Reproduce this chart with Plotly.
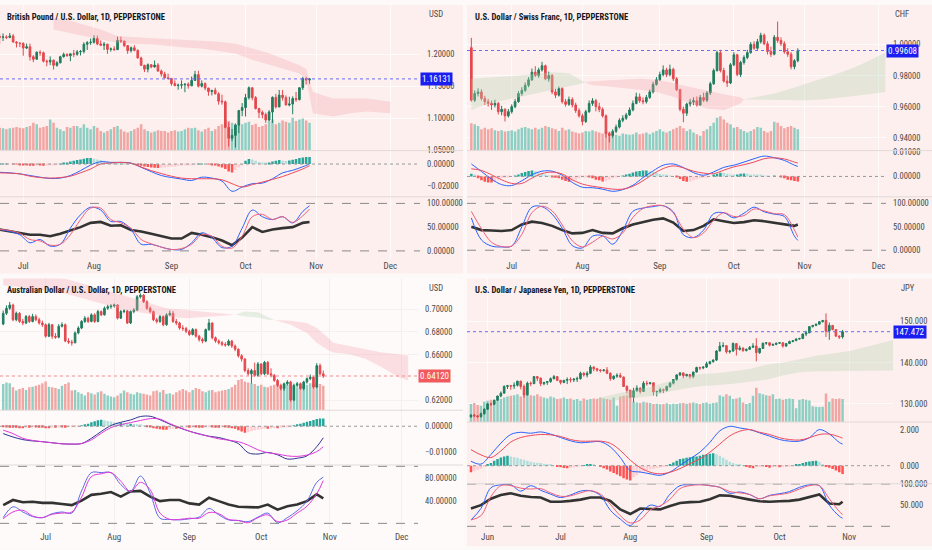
import pandas as pd
import plotly.graph_objects as go

W, H = 932, 550
FONT = ("Roboto Condensed, Noto Sans Condensed, Liberation Sans Narrow, Open Sans Condensed, "
        "DejaVu Sans Condensed, Arial Narrow, Liberation Sans, sans-serif")

# ---------------- GBPUSD, daily bars from 2022-06-22 ----------------
gbp_open = [1.2275, 1.2265, 1.2270, 1.2262, 1.2285, 1.2190, 1.2175, 1.2168, 1.2095, 1.2115,
            1.1960, 1.1920, 1.2030, 1.2022, 1.1890, 1.1880, 1.1905, 1.1825, 1.1865, 1.1960,
            1.1995, 1.1975, 1.2005, 1.1998, 1.2035, 1.2042, 1.2155, 1.2180, 1.2186, 1.2245,
            1.2160, 1.2140, 1.2155, 1.2075, 1.2082, 1.2070, 1.2215, 1.2205, 1.2135, 1.2055,
            1.2100, 1.2060, 1.1940, 1.1825, 1.1765, 1.1835, 1.1800, 1.1830, 1.1735, 1.1690,
            1.1630, 1.1620, 1.1540, 1.1510, 1.1515, 1.1522, 1.1530, 1.1505, 1.1590, 1.1680,
            1.1500, 1.1540, 1.1470, 1.1415, 1.1435, 1.1380, 1.1265, 1.1255, 1.0855, 1.0685,
            1.0730, 1.0890, 1.1120, 1.1165, 1.1320, 1.1475, 1.1320, 1.1150, 1.1090, 1.1055,
            1.0970, 1.1095, 1.1325, 1.1175, 1.1360, 1.1320, 1.1205, 1.1220, 1.1305, 1.1290,
            1.1475, 1.1620, 1.1595]
gbp_high = [1.2315, 1.2325, 1.2295, 1.2330, 1.2315, 1.2200, 1.2180, 1.2185, 1.2165, 1.2165,
            1.1985, 1.2045, 1.2060, 1.2040, 1.1915, 1.1965, 1.1915, 1.1890, 1.1975, 1.2025,
            1.2015, 1.2010, 1.2065, 1.2065, 1.2065, 1.2185, 1.2205, 1.2245, 1.2295, 1.2290,
            1.2215, 1.2190, 1.2165, 1.2105, 1.2125, 1.2275, 1.2275, 1.2210, 1.2140, 1.2120,
            1.2140, 1.2075, 1.1960, 1.1835, 1.1855, 1.1845, 1.1900, 1.1860, 1.1760, 1.1725,
            1.1695, 1.1625, 1.1590, 1.1540, 1.1590, 1.1545, 1.1560, 1.1650, 1.1740, 1.1740,
            1.1590, 1.1560, 1.1475, 1.1440, 1.1475, 1.1405, 1.1365, 1.1275, 1.0935, 1.0830,
            1.0915, 1.1120, 1.1235, 1.1380, 1.1495, 1.1480, 1.1345, 1.1160, 1.1120, 1.1085,
            1.1125, 1.1340, 1.1380, 1.1440, 1.1440, 1.1355, 1.1335, 1.1340, 1.1410, 1.1480,
            1.1645, 1.1645, 1.1625]
gbp_low = [1.2160, 1.2205, 1.2235, 1.2250, 1.2180, 1.2105, 1.2110, 1.1975, 1.2080, 1.1900,
           1.1875, 1.1915, 1.1975, 1.1870, 1.1810, 1.1830, 1.1760, 1.1805, 1.1855, 1.1945,
           1.1960, 1.1890, 1.1955, 1.1975, 1.1980, 1.2010, 1.2065, 1.2145, 1.2165, 1.2140,
           1.2125, 1.2065, 1.2005, 1.2040, 1.2055, 1.2065, 1.2175, 1.2110, 1.2005, 1.2025,
           1.2045, 1.1935, 1.1815, 1.1720, 1.1715, 1.1780, 1.1790, 1.1725, 1.1650, 1.1620,
           1.1605, 1.1505, 1.1495, 1.1445, 1.1460, 1.1405, 1.1460, 1.1500, 1.1580, 1.1480,
           1.1480, 1.1435, 1.1350, 1.1355, 1.1370, 1.1210, 1.1210, 1.0840, 1.0555, 1.0640,
           1.0540, 1.0765, 1.1030, 1.1025, 1.1290, 1.1280, 1.1135, 1.1000, 1.0995, 1.0925,
           1.0955, 1.0925, 1.1150, 1.1170, 1.1275, 1.1200, 1.1185, 1.1060, 1.1255, 1.1275,
           1.1440, 1.1525, 1.1535]
gbp_close = [1.2265, 1.2270, 1.2262, 1.2285, 1.2190, 1.2175, 1.2168, 1.2095, 1.2115, 1.1960,
             1.1920, 1.2030, 1.2022, 1.1890, 1.1880, 1.1905, 1.1825, 1.1865, 1.1960, 1.1995,
             1.1975, 1.2005, 1.1998, 1.2035, 1.2042, 1.2155, 1.2180, 1.2186, 1.2245, 1.2160,
             1.2140, 1.2155, 1.2075, 1.2082, 1.2070, 1.2215, 1.2205, 1.2135, 1.2055, 1.2100,
             1.2060, 1.1940, 1.1825, 1.1765, 1.1835, 1.1800, 1.1830, 1.1735, 1.1690, 1.1630,
             1.1620, 1.1540, 1.1510, 1.1515, 1.1522, 1.1530, 1.1505, 1.1590, 1.1680, 1.1500,
             1.1540, 1.1470, 1.1415, 1.1435, 1.1380, 1.1265, 1.1255, 1.0855, 1.0685, 1.0730,
             1.0890, 1.1120, 1.1165, 1.1320, 1.1475, 1.1320, 1.1150, 1.1090, 1.1055, 1.0970,
             1.1095, 1.1325, 1.1175, 1.1360, 1.1320, 1.1205, 1.1220, 1.1305, 1.1290, 1.1475,
             1.1620, 1.1595, 1.16131]
gbp_volume = [70, 68, 65, 68, 70, 72, 70, 68, 72, 75, 85, 80, 70, 72, 75, 95, 85, 70, 65, 60,
              72, 70, 75, 75, 70, 80, 70, 65, 75, 70, 60, 55, 60, 65, 72, 75, 65, 58, 55, 60,
              65, 70, 80, 65, 60, 55, 58, 62, 60, 60, 55, 60, 62, 58, 60, 65, 70, 68, 70, 62,
              58, 65, 70, 60, 65, 75, 80, 95, 90, 85, 80, 78, 80, 85, 88, 78, 82, 72, 75, 80,
              90, 95, 80, 85, 92, 88, 85, 100, 90, 95, 98, 92, 85]
gbp_hist = [0.0003, 0.0003, 0.0003, 0.0, -0.0003, -0.0003,
            -0.0006, -0.0009, -0.0012, -0.0015, -0.0015, -0.0012, -0.0012, -0.0015, -0.0012, -0.0009, -0.0006, -0.0003,
            0.0003, 0.0009, 0.0015, 0.0024, 0.003, 0.0036, 0.0042, 0.0048, 0.0054,
            0.0054, 0.0048, 0.0042, 0.0036, 0.003, 0.0024, 0.0018, 0.0015, 0.0012,
            0.0009, 0.0006, 0.0003, 0.0, -0.0003,
            -0.0009, -0.0015, -0.0021, -0.0027, -0.003, -0.0033, -0.0036, -0.0033, -0.003, -0.0027, -0.0024,
            -0.0021, -0.0018, -0.0015, -0.0012, -0.0009, -0.0006, -0.0003,
            0.0003, 0.0003, 0.0, -0.0003, -0.0006,
            -0.0012, -0.0021, -0.003, -0.0045, -0.0066, -0.0075,
            -0.0054, -0.003, -0.0006,
            0.003, 0.0045, 0.0042, 0.003, 0.0018, 0.0012, 0.0009,
            0.0012, 0.0024, 0.003, 0.0036, 0.003, 0.0027, 0.0033, 0.0039, 0.0045,
            0.0054, 0.006, 0.0063, 0.0063]
# indicator lines read every third bar, plus the last bar
gbp_macd = [-0.0074, -0.0079, -0.0088, -0.0103, -0.0118, -0.0129, -0.0126, -0.0103, -0.0059, -0.0009,
            0.0021, 0.0015, 0.0015, 0.0009, -0.0029, -0.0068, -0.0103, -0.0121, -0.0135, -0.0147,
            -0.0118, -0.0126, -0.0153, -0.0244, -0.0206, -0.0176, -0.0171, -0.0132, -0.0079, -0.0056,
            -0.0024, 0.0000]
gbp_signal = [-0.0079, -0.0082, -0.0088, -0.0109, -0.0121, -0.0126, -0.0121, -0.0109, -0.0079, -0.0044,
              0.0000, 0.0009, 0.0015, 0.0006, -0.0026, -0.0059, -0.0085, -0.0109, -0.0126, -0.0132,
              -0.0132, -0.0132, -0.0141, -0.0176, -0.0206, -0.0185, -0.0162, -0.0138, -0.0112, -0.0079,
              -0.0044, -0.0015]
gbp_k = [45, 41, 34, 17, 24, 10, 14, 48, 76, 92, 86, 62, 62, 45, 14, 14, 8, 3, 3, 17,
         38, 28, 7, 10, 48, 86, 72, 66, 72, 59, 83, 95]
gbp_d = [45, 43, 37, 24, 21, 12, 14, 34, 66, 90, 90, 66, 59, 48, 24, 15, 8, 3, 5, 14,
         34, 31, 10, 6, 31, 72, 77, 66, 72, 60, 74, 88]
gbp_rsi = [45, 41, 38, 34, 34, 31, 36, 43, 50, 59, 61, 53, 54, 44, 41, 36, 31, 26, 26, 38,
           34, 29, 22, 12, 28, 50, 40, 45, 48, 50, 59, 61]
gbp_kumo_x = [16, 20, 25, 30, 35, 40, 45, 50, 55, 60, 65, 70, 75, 80, 85, 89, 91, 93, 99, 104, 109, 116]
gbp_span_a = [1.2385, 1.2333, 1.2282, 1.2231, 1.2179, 1.2164, 1.2154, 1.2128, 1.2103, 1.2087, 1.2051,
              1.2010, 1.1913, 1.1836, 1.1759, 1.1697, 1.1615, 1.1077, 1.1026, 1.1077, 1.1103, 1.1077]
gbp_span_b = [1.2564, 1.2538, 1.2462, 1.2385, 1.2282, 1.2267, 1.2256, 1.2246, 1.2231, 1.2215, 1.2195,
              1.2164, 1.2092, 1.2015, 1.1908, 1.1826, 1.1769, 1.1410, 1.1308, 1.1308, 1.1308, 1.1256]

# ---------------- USDCHF, daily bars from 2022-06-15 ----------------
chf_open = [0.9979, 0.9642, 0.9684, 0.9695, 0.9653, 0.9632, 0.9621, 0.9611, 0.9621, 0.9568,
            0.9583, 0.9541, 0.9568, 0.9600, 0.9632, 0.9684, 0.9705, 0.9737, 0.9773, 0.9821,
            0.9800, 0.9836, 0.9863, 0.9779, 0.9800, 0.9695, 0.9674, 0.9716, 0.9632, 0.9615,
            0.9646, 0.9611, 0.9575, 0.9541, 0.9505, 0.9568, 0.9621, 0.9638, 0.9600, 0.9583,
            0.9541, 0.9427, 0.9415, 0.9442, 0.9469, 0.9512, 0.9526, 0.9547, 0.9579, 0.9621,
            0.9663, 0.9638, 0.9632, 0.9659, 0.9695, 0.9743, 0.9773, 0.9806, 0.9836, 0.9806,
            0.9840, 0.9779, 0.9709, 0.9583, 0.9558, 0.9617, 0.9630, 0.9638, 0.9611, 0.9659,
            0.9642, 0.9688, 0.9747, 0.9832, 0.9947, 0.9832, 0.9764, 0.9752, 0.9869, 0.9933,
            0.9806, 0.9884, 0.9916, 0.9947, 1.0000, 0.9975, 1.0017, 1.0059, 1.0004, 0.9954,
            0.9937, 1.0046, 1.0025, 1.0004, 0.9952, 0.9937, 0.9857, 0.9895]
chf_high = [1.0042, 0.9705, 0.9718, 0.9712, 0.9670, 0.9650, 0.9640, 0.9645, 0.9630, 0.9605,
            0.9590, 0.9585, 0.9615, 0.9650, 0.9700, 0.9725, 0.9755, 0.9790, 0.9845, 0.9860,
            0.9850, 0.9888, 0.9870, 0.9825, 0.9810, 0.9715, 0.9730, 0.9725, 0.9650, 0.9665,
            0.9660, 0.9625, 0.9590, 0.9555, 0.9580, 0.9640, 0.9655, 0.9650, 0.9625, 0.9595,
            0.9550, 0.9440, 0.9455, 0.9485, 0.9525, 0.9545, 0.9560, 0.9595, 0.9640, 0.9690,
            0.9685, 0.9660, 0.9675, 0.9710, 0.9760, 0.9790, 0.9825, 0.9865, 0.9850, 0.9870,
            0.9850, 0.9790, 0.9715, 0.9600, 0.9625, 0.9650, 0.9660, 0.9665, 0.9675, 0.9690,
            0.9700, 0.9760, 0.9845, 0.9960, 0.9965, 0.9850, 0.9800, 0.9880, 0.9950, 0.9940,
            0.9895, 0.9930, 0.9965, 1.0015, 1.0020, 1.0035, 1.0075, 1.0070, 1.0020, 0.9985,
            1.0060, 1.0147, 1.0045, 1.0020, 0.9975, 0.9950, 0.9905, 0.9975]
chf_low = [0.9632, 0.9630, 0.9665, 0.9640, 0.9610, 0.9600, 0.9579, 0.9595, 0.9550, 0.9545,
           0.9505, 0.9530, 0.9555, 0.9590, 0.9625, 0.9670, 0.9695, 0.9725, 0.9765, 0.9790,
           0.9785, 0.9825, 0.9770, 0.9760, 0.9680, 0.9655, 0.9665, 0.9620, 0.9600, 0.9605,
           0.9595, 0.9560, 0.9530, 0.9480, 0.9495, 0.9560, 0.9605, 0.9570, 0.9565, 0.9530,
           0.9400, 0.9370, 0.9400, 0.9430, 0.9460, 0.9500, 0.9515, 0.9540, 0.9570, 0.9615,
           0.9625, 0.9615, 0.9620, 0.9650, 0.9685, 0.9735, 0.9765, 0.9795, 0.9790, 0.9795,
           0.9765, 0.9700, 0.9570, 0.9500, 0.9540, 0.9600, 0.9610, 0.9600, 0.9605, 0.9630,
           0.9630, 0.9675, 0.9740, 0.9825, 0.9820, 0.9755, 0.9726, 0.9745, 0.9860, 0.9795,
           0.9790, 0.9870, 0.9905, 0.9940, 0.9965, 0.9965, 1.0005, 0.9995, 0.9935, 0.9920,
           0.9930, 1.0010, 0.9990, 0.9940, 0.9920, 0.9840, 0.9840, 0.9885]
chf_close = [0.9642, 0.9684, 0.9695, 0.9653, 0.9632, 0.9621, 0.9611, 0.9621, 0.9568, 0.9583,
             0.9541, 0.9568, 0.9600, 0.9632, 0.9684, 0.9705, 0.9737, 0.9773, 0.9821, 0.9800,
             0.9836, 0.9863, 0.9779, 0.9800, 0.9695, 0.9674, 0.9716, 0.9632, 0.9615, 0.9646,
             0.9611, 0.9575, 0.9541, 0.9505, 0.9568, 0.9621, 0.9638, 0.9600, 0.9583, 0.9541,
             0.9427, 0.9415, 0.9442, 0.9469, 0.9512, 0.9526, 0.9547, 0.9579, 0.9621, 0.9663,
             0.9638, 0.9632, 0.9659, 0.9695, 0.9743, 0.9773, 0.9806, 0.9836, 0.9806, 0.9840,
             0.9779, 0.9709, 0.9583, 0.9558, 0.9617, 0.9630, 0.9638, 0.9611, 0.9659, 0.9642,
             0.9688, 0.9747, 0.9832, 0.9947, 0.9832, 0.9764, 0.9752, 0.9869, 0.9933, 0.9806,
             0.9884, 0.9916, 0.9947, 1.0000, 0.9975, 1.0017, 1.0059, 1.0004, 0.9954, 0.9937,
             1.0046, 1.0025, 1.0004, 0.9952, 0.9937, 0.9857, 0.9895, 0.99608]
chf_volume = [83, 80, 75, 65, 70, 65, 68, 62, 60, 62, 58, 60, 62, 58, 65, 70, 72, 68, 65, 70,
              65, 70, 75, 72, 68, 65, 60, 70, 62, 65, 58, 55, 52, 55, 60, 58, 62, 58, 55, 52,
              60, 55, 50, 48, 45, 52, 50, 48, 50, 55, 50, 52, 55, 50, 55, 60, 65, 58, 55, 60,
              65, 70, 75, 68, 60, 65, 55, 50, 45, 60, 65, 75, 85, 100, 105, 95, 85, 80, 70, 72,
              65, 60, 55, 60, 65, 72, 70, 60, 55, 60, 88, 85, 75, 68, 72, 75, 70, 65]
chf_hist = [0.0011, 0.0007,
            -0.0007, -0.0016, -0.0022, -0.0025, -0.0025, -0.0021, -0.0014,
            -0.0008, -0.0004, -0.0001, 0.0, 0.0003,
            0.0008, 0.0014, 0.0019, 0.0023, 0.0025, 0.0022, 0.0016, 0.0011, 0.0005,
            0.0001, -0.0003, -0.0005, -0.0008,
            -0.0014, -0.0019, -0.0022, -0.0019, -0.0014, -0.0008, -0.0004,
            -0.0001, -0.0004, -0.0008, -0.0014, -0.0016,
            -0.0021, -0.0019, -0.0014, -0.0008,
            -0.0003, 0.0, 0.0003, 0.0005,
            0.0011, 0.0016, 0.0021, 0.0023, 0.0025, 0.0025, 0.0022, 0.0019,
            0.0015, 0.0011, 0.0008, 0.0005, 0.0003, 0.0, -0.0003,
            -0.0011, -0.0019, -0.0022, -0.0021, -0.0016, -0.0012,
            -0.0008, -0.0005, -0.0003, 0.0,
            0.0005, 0.0011, 0.0015, 0.0014, 0.0011, 0.0008,
            0.0005, 0.0007, 0.0011, 0.0012, 0.0011, 0.0008,
            0.0007, 0.0005, 0.0004, 0.0003, 0.0001, 0.0,
            0.0001, 0.0, -0.0004, -0.0008,
            -0.0014, -0.0016, -0.0019, -0.0021]
chf_macd = [0.0052, 0.0021, -0.0011, -0.0034, -0.0038, -0.0018, 0.0007, 0.0022, 0.0022, 0.0005,
            -0.0025, -0.0045, -0.0047, -0.0053, -0.0062, -0.0055, -0.0037, -0.0005, 0.0023, 0.0047,
            0.0052, 0.0037, 0.0016, 0.0005, 0.0019, 0.0038, 0.0047, 0.0060, 0.0074, 0.0085,
            0.0078, 0.0067, 0.0047, 0.0042]
chf_signal = [0.0032, 0.0025, 0.0007, -0.0014, -0.0029, -0.0029, -0.0007, 0.0012, 0.0018, 0.0010,
              -0.0014, -0.0032, -0.0041, -0.0047, -0.0053, -0.0053, -0.0041, -0.0018, 0.0010, 0.0033,
              0.0044, 0.0036, 0.0022, 0.0014, 0.0012, 0.0026, 0.0040, 0.0049, 0.0060, 0.0074,
              0.0078, 0.0073, 0.0060, 0.0056]
chf_k = [69, 22, 9, 7, 9, 50, 92, 93, 77, 47, 10, 5, 30, 31, 13, 42, 83, 90, 93, 95,
         82, 33, 27, 43, 78, 80, 69, 79, 92, 82, 77, 72, 30, 21]
chf_d = [83, 46, 17, 8, 9, 34, 80, 94, 84, 54, 20, 7, 17, 30, 24, 37, 70, 89, 95, 95,
         80, 45, 27, 37, 64, 80, 72, 74, 88, 84, 78, 76, 43, 28]
chf_rsi = [50, 43, 42, 41, 43, 55, 61, 58, 52, 43, 36, 37, 43, 37, 36, 47, 55, 60, 65, 68,
           59, 41, 43, 52, 66, 62, 58, 60, 64, 62, 59, 55, 52, 55]
chf_kumo_x = [0, 4, 9, 14, 19, 24, 29, 34, 36, 40, 45, 50, 55, 60, 65, 70, 75, 80, 81, 85, 90,
              95, 100, 105, 110, 115, 120, 123]
chf_span_a = [0.9779, 0.9785, 0.9789, 0.9800, 0.9811, 0.9821, 0.9815, 0.9758, 0.9737, 0.9731,
              0.9722, 0.9709, 0.9695, 0.9663, 0.9621, 0.9589, 0.9579, 0.9621, 0.9646, 0.9663,
              0.9684, 0.9716, 0.9752, 0.9785, 0.9821, 0.9863, 0.9916, 0.9947]
chf_span_b = [0.9579, 0.9611, 0.9638, 0.9663, 0.9684, 0.9709, 0.9731, 0.9754, 0.9764, 0.9768,
              0.9773, 0.9779, 0.9773, 0.9752, 0.9726, 0.9701, 0.9680, 0.9659, 0.9648, 0.9642,
              0.9642, 0.9642, 0.9642, 0.9648, 0.9659, 0.9672, 0.9688, 0.9695]

# ---------------- AUDUSD, daily bars from 2022-06-14 ----------------
aud_open = [0.6870, 0.6965, 0.7009, 0.7038, 0.6908, 0.6965, 0.6893, 0.6879, 0.6936, 0.6893,
            0.6936, 0.6908, 0.6879, 0.6864, 0.6763, 0.6864, 0.6763, 0.6754, 0.6850, 0.6864,
            0.6720, 0.6711, 0.6705, 0.6792, 0.6835, 0.6893, 0.6922, 0.6893, 0.6951, 0.6893,
            0.6980, 0.6951, 0.7009, 0.7023, 0.7029, 0.7038, 0.6922, 0.6980, 0.6986, 0.6879,
            0.6980, 0.6994, 0.7110, 0.7124, 0.7066, 0.7009, 0.6980, 0.6908, 0.6893, 0.6936,
            0.6864, 0.6951, 0.6965, 0.6893, 0.6879, 0.6835, 0.6830, 0.6806, 0.6778, 0.6821,
            0.6763, 0.6734, 0.6720, 0.6821, 0.6879, 0.6749, 0.6720, 0.6705, 0.6691, 0.6685,
            0.6720, 0.6676, 0.6648, 0.6590, 0.6561, 0.6460, 0.6431, 0.6460, 0.6417, 0.6518,
            0.6431, 0.6532, 0.6431, 0.6417, 0.6373, 0.6330, 0.6301, 0.6344, 0.6359, 0.6200,
            0.6330, 0.6344, 0.6301, 0.6359, 0.6388, 0.6402, 0.6315, 0.6503, 0.6431]
aud_high = [0.6990, 0.7035, 0.7065, 0.7050, 0.6980, 0.6975, 0.6915, 0.6950, 0.6950, 0.6960,
            0.6955, 0.6925, 0.6900, 0.6875, 0.6880, 0.6870, 0.6790, 0.6870, 0.6885, 0.6875,
            0.6745, 0.6730, 0.6805, 0.6850, 0.6905, 0.6940, 0.6935, 0.6965, 0.6965, 0.6995,
            0.6990, 0.7025, 0.7040, 0.7045, 0.7050, 0.7045, 0.6995, 0.7000, 0.6995, 0.6990,
            0.7010, 0.7125, 0.7140, 0.7135, 0.7080, 0.7025, 0.6990, 0.6925, 0.6950, 0.6945,
            0.6965, 0.6990, 0.6985, 0.6915, 0.6890, 0.6860, 0.6845, 0.6820, 0.6835, 0.6830,
            0.6775, 0.6750, 0.6830, 0.6915, 0.6885, 0.6760, 0.6735, 0.6720, 0.6710, 0.6735,
            0.6730, 0.6690, 0.6655, 0.6605, 0.6570, 0.6480, 0.6475, 0.6530, 0.6535, 0.6525,
            0.6545, 0.6545, 0.6480, 0.6430, 0.6385, 0.6345, 0.6355, 0.6375, 0.6370, 0.6345,
            0.6360, 0.6355, 0.6370, 0.6400, 0.6425, 0.6410, 0.6525, 0.6522, 0.6460]
aud_low = [0.6860, 0.6950, 0.6995, 0.6895, 0.6895, 0.6880, 0.6860, 0.6870, 0.6880, 0.6885,
           0.6895, 0.6865, 0.6845, 0.6750, 0.6755, 0.6740, 0.6740, 0.6745, 0.6840, 0.6710,
           0.6695, 0.6680, 0.6700, 0.6780, 0.6825, 0.6880, 0.6880, 0.6885, 0.6880, 0.6885,
           0.6940, 0.6945, 0.6995, 0.7005, 0.7015, 0.6910, 0.6915, 0.6965, 0.6870, 0.6870,
           0.6965, 0.6985, 0.7095, 0.7055, 0.6995, 0.6965, 0.6895, 0.6875, 0.6880, 0.6850,
           0.6855, 0.6940, 0.6880, 0.6860, 0.6820, 0.6810, 0.6790, 0.6765, 0.6770, 0.6750,
           0.6715, 0.6700, 0.6710, 0.6810, 0.6735, 0.6705, 0.6690, 0.6675, 0.6670, 0.6675,
           0.6660, 0.6630, 0.6575, 0.6540, 0.6445, 0.6415, 0.6345, 0.6405, 0.6405, 0.6420,
           0.6420, 0.6420, 0.6400, 0.6360, 0.6315, 0.6285, 0.6280, 0.6330, 0.6185, 0.6190,
           0.6315, 0.6290, 0.6285, 0.6345, 0.6375, 0.6300, 0.6305, 0.6420, 0.6395]
aud_close = [0.6965, 0.7009, 0.7038, 0.6908, 0.6965, 0.6893, 0.6879, 0.6936, 0.6893, 0.6936,
             0.6908, 0.6879, 0.6864, 0.6763, 0.6864, 0.6763, 0.6754, 0.6850, 0.6864, 0.6720,
             0.6711, 0.6705, 0.6792, 0.6835, 0.6893, 0.6922, 0.6893, 0.6951, 0.6893, 0.6980,
             0.6951, 0.7009, 0.7023, 0.7029, 0.7038, 0.6922, 0.6980, 0.6986, 0.6879, 0.6980,
             0.6994, 0.7110, 0.7124, 0.7066, 0.7009, 0.6980, 0.6908, 0.6893, 0.6936, 0.6864,
             0.6951, 0.6965, 0.6893, 0.6879, 0.6835, 0.6830, 0.6806, 0.6778, 0.6821, 0.6763,
             0.6734, 0.6720, 0.6821, 0.6879, 0.6749, 0.6720, 0.6705, 0.6691, 0.6685, 0.6720,
             0.6676, 0.6648, 0.6590, 0.6561, 0.6460, 0.6431, 0.6460, 0.6417, 0.6518, 0.6431,
             0.6532, 0.6431, 0.6417, 0.6373, 0.6330, 0.6301, 0.6344, 0.6359, 0.6200, 0.6330,
             0.6344, 0.6301, 0.6359, 0.6388, 0.6402, 0.6315, 0.6503, 0.6431, 0.6412]
aud_volume = [80, 85, 82, 70, 60, 65, 68, 62, 70, 72, 75, 78, 82, 88, 72, 70, 68, 65, 75, 80,
              85, 60, 62, 55, 50, 45, 55, 52, 48, 55, 58, 50, 45, 42, 40, 45, 52, 60, 55, 50,
              48, 55, 52, 50, 48, 45, 58, 60, 55, 62, 50, 52, 48, 55, 60, 65, 60, 55, 62, 68,
              65, 58, 55, 60, 62, 55, 58, 60, 62, 65, 70, 78, 92, 95, 88, 85, 82, 80, 75, 78,
              72, 70, 75, 78, 78, 75, 80, 78, 82, 75, 70, 72, 75, 78, 82, 80, 85, 80, 75]
aud_hist = [-0.0004, -0.0005, -0.0006, -0.0006, -0.0006, -0.0008, -0.0008, -0.0006, -0.0006, -0.0005,
            -0.0005, -0.0006, -0.0006, -0.0008, -0.0008, -0.0006, -0.0006, -0.0005, -0.0005, -0.0006,
            -0.0005, -0.0004, -0.0003, -0.0001,
            0.0003, 0.0006, 0.001, 0.0015, 0.0019, 0.0023, 0.0025, 0.0023, 0.002, 0.0018,
            0.0015, 0.0013, 0.0013, 0.0011, 0.001, 0.001, 0.0009, 0.0006, 0.0004, 0.0001,
            -0.0003, -0.0005, -0.0008, -0.001, -0.0011, -0.0013, -0.0013, -0.0011, -0.001, -0.001,
            -0.0009, -0.0008, -0.0006,
            -0.0006, -0.0005, -0.0005, -0.0006, -0.0006, -0.0005, -0.0004, -0.0005, -0.0006, -0.0006,
            -0.0005, -0.0005, -0.0006, -0.0008,
            -0.001, -0.0015, -0.002, -0.0025, -0.0023, -0.0019, -0.0015,
            -0.0013, -0.0011, -0.001, -0.001, -0.0009, -0.0008, -0.0008, -0.0006, -0.0005, -0.0004, -0.0001,
            0.0003, 0.0006, 0.001, 0.0013, 0.0017, 0.002, 0.0024, 0.0028, 0.003, 0.003]
aud_macd = [-0.0028, -0.0041, -0.0051, -0.0056, -0.0059, -0.0063, -0.0067, -0.0068, -0.0066, -0.0046,
            -0.0020, 0.0003, 0.0015, 0.0024, 0.0037, 0.0038, 0.0025, 0.0008, -0.0006, -0.0019,
            -0.0029, -0.0038, -0.0043, -0.0053, -0.0066, -0.0101, -0.0106, -0.0100, -0.0109, -0.0125,
            -0.0122, -0.0113, -0.0078, -0.0044]
aud_signal = [-0.0015, -0.0028, -0.0046, -0.0054, -0.0059, -0.0063, -0.0067, -0.0068, -0.0066, -0.0052,
              -0.0027, -0.0005, 0.0006, 0.0014, 0.0022, 0.0029, 0.0027, 0.0010, -0.0005, -0.0019,
              -0.0030, -0.0039, -0.0048, -0.0053, -0.0059, -0.0072, -0.0090, -0.0101, -0.0106, -0.0113,
              -0.0115, -0.0110, -0.0097, -0.0078]
aud_k = [10, 29, 20, 12, 10, 17, 20, 18, 57, 89, 89, 89, 68, 56, 83, 53, 9, 7, 6, 8,
         11, 26, 15, 6, 5, 3, 11, 18, 1, 10, 22, 39, 72, 81]
aud_d = [8, 20, 23, 13, 10, 16, 18, 20, 46, 82, 87, 89, 74, 56, 72, 59, 18, 7, 7, 9,
         9, 19, 17, 7, 5, 1, 10, 15, 3, 6, 18, 30, 52, 75]
aud_rsi = [32, 41, 37, 38, 36, 36, 34, 32, 40, 50, 52, 55, 47, 56, 57, 47, 39, 41, 41, 35,
           33, 45, 39, 33, 29, 29, 28, 33, 24, 30, 33, 39, 51, 44]
aud_kumo_x = [0, 9, 19, 30, 35, 40, 45, 50, 56, 64, 71, 74, 78, 81, 83, 88, 93, 96, 99, 101,
              106, 111, 116, 121, 124]
aud_span_a = [0.7211, 0.7182, 0.7139, 0.7052, 0.7009, 0.6980, 0.6957, 0.6936, 0.6922, 0.6936,
              0.6952, 0.6980, 0.6974, 0.6936, 0.6906, 0.6864, 0.6792, 0.6705, 0.6648, 0.6619,
              0.6604, 0.6561, 0.6489, 0.6402, 0.6373]
aud_span_b = [0.7312, 0.7298, 0.7269, 0.7182, 0.7139, 0.7095, 0.7052, 0.7009, 0.6994, 0.6974,
              0.6952, 0.6936, 0.6928, 0.6908, 0.6906, 0.6899, 0.6879, 0.6835, 0.6763, 0.6705,
              0.6676, 0.6648, 0.6619, 0.6604, 0.6590]

# ---------------- USDJPY, daily bars from 2022-05-25 ----------------
jpy_open = [126.9, 127.3, 127.1, 126.9, 127.6, 128.7, 130.0, 129.9, 130.9, 131.9,
            132.6, 134.2, 134.4, 134.3, 134.5, 135.5, 134.2, 132.2, 135.0, 134.9,
            136.6, 136.2, 134.9, 135.2, 135.4, 136.1, 136.6, 135.7, 135.2, 135.7,
            135.9, 135.8, 136.0, 136.1, 137.4, 137.0, 137.4, 138.9, 138.5, 138.2,
            138.1, 138.2, 137.4, 136.1, 136.7, 136.9, 136.5, 134.2, 133.3, 131.6,
            133.2, 133.8, 133.0, 135.0, 134.9, 135.1, 132.9, 133.0, 133.4, 133.3,
            134.2, 135.0, 135.9, 137.0, 137.5, 136.8, 137.1, 136.6, 137.7, 138.8,
            138.7, 138.9, 139.7, 140.2, 140.6, 142.8, 144.0, 144.1, 142.6, 142.8,
            144.6, 143.2, 143.5, 142.9, 143.2, 143.7, 144.0, 142.4, 143.4, 144.7,
            144.8, 144.2, 144.4, 144.7, 144.8, 144.0, 144.6, 145.1, 145.3, 145.7,
            145.8, 146.9, 147.2, 148.7, 149.0, 149.3, 149.9, 150.2, 147.6, 149.0,
            148.0, 146.4, 146.2]
jpy_high = [127.5, 127.6, 127.3, 127.9, 128.9, 130.2, 130.3, 131.0, 132.0, 133.0,
            134.5, 134.6, 134.6, 135.2, 135.6, 135.6, 134.7, 135.4, 135.4, 136.7,
            136.7, 136.4, 135.3, 135.5, 136.4, 137.0, 136.7, 135.8, 135.8, 136.4,
            136.4, 136.2, 136.6, 137.8, 137.7, 137.9, 139.4, 139.1, 138.7, 138.4,
            138.4, 138.9, 137.6, 136.9, 137.4, 137.5, 136.6, 134.5, 133.4, 133.9,
            134.5, 134.0, 135.5, 135.6, 135.3, 135.2, 133.2, 133.9, 133.7, 134.4,
            135.3, 136.0, 137.2, 137.7, 137.6, 137.3, 137.2, 137.8, 139.0, 139.0,
            139.1, 140.2, 140.4, 140.8, 143.0, 145.0, 144.9, 144.2, 143.0, 144.9,
            144.7, 144.1, 143.7, 143.4, 144.0, 144.7, 145.9, 143.6, 144.8, 144.9,
            144.9, 144.6, 144.8, 145.0, 144.9, 144.7, 145.3, 145.4, 145.9, 146.0,
            147.0, 147.7, 148.8, 149.1, 149.4, 149.9, 150.3, 151.9, 149.7, 149.0,
            148.1, 146.6, 147.9]
jpy_low = [126.6, 126.8, 126.6, 126.7, 127.4, 128.6, 129.5, 129.7, 130.7, 131.6,
           132.5, 133.6, 133.4, 133.6, 134.2, 133.5, 131.5, 132.0, 134.3, 134.8,
           135.5, 134.3, 134.5, 134.6, 135.1, 135.9, 135.5, 134.7, 135.0, 134.8,
           135.2, 135.3, 135.3, 135.9, 136.6, 136.4, 137.2, 137.9, 137.8, 137.6,
           137.8, 137.2, 135.6, 135.8, 136.3, 136.3, 134.1, 132.5, 131.6, 130.4,
           132.9, 132.5, 132.9, 134.4, 134.7, 132.0, 131.8, 132.6, 132.6, 133.0,
           133.9, 134.7, 135.6, 136.7, 136.2, 136.6, 136.1, 136.2, 137.6, 138.2,
           138.4, 138.7, 139.6, 140.0, 140.4, 142.7, 143.7, 142.2, 142.2, 142.6,
           141.7, 142.9, 142.6, 142.7, 143.1, 143.6, 140.3, 142.1, 143.3, 144.3,
           143.9, 144.0, 144.2, 144.5, 143.6, 143.8, 144.5, 144.9, 145.2, 145.5,
           145.7, 146.4, 147.1, 148.5, 148.8, 149.2, 149.7, 146.2, 145.5, 147.8,
           146.3, 145.7, 145.8]
jpy_close = [127.3, 127.1, 126.9, 127.6, 128.7, 130.0, 129.9, 130.9, 131.9, 132.6,
             134.2, 134.4, 134.3, 134.5, 135.5, 134.2, 132.2, 135.0, 134.9, 136.6,
             136.2, 134.9, 135.2, 135.4, 136.1, 136.6, 135.7, 135.2, 135.7, 135.9,
             135.8, 136.0, 136.1, 137.4, 137.0, 137.4, 138.9, 138.5, 138.2, 138.1,
             138.2, 137.4, 136.1, 136.7, 136.9, 136.5, 134.2, 133.3, 131.6, 133.2,
             133.8, 133.0, 135.0, 134.9, 135.1, 132.9, 133.0, 133.4, 133.3, 134.2,
             135.0, 135.9, 137.0, 137.5, 136.8, 137.1, 136.6, 137.7, 138.8, 138.7,
             138.9, 139.7, 140.2, 140.6, 142.8, 144.0, 144.1, 142.6, 142.8, 144.6,
             143.2, 143.5, 142.9, 143.2, 143.7, 144.0, 142.4, 143.4, 144.7, 144.8,
             144.2, 144.4, 144.7, 144.8, 144.0, 144.6, 145.1, 145.3, 145.7, 145.8,
             146.9, 147.2, 148.7, 149.0, 149.3, 149.9, 150.2, 147.6, 149.0, 148.0,
             146.4, 146.2, 147.472]
jpy_volume = [55, 58, 52, 50, 62, 65, 68, 65, 68, 70, 75, 78, 80, 82, 85, 78, 88, 85, 82, 80,
              85, 78, 75, 72, 78, 75, 70, 72, 75, 70, 72, 68, 70, 65, 72, 68, 70, 72, 70, 75,
              72, 70, 68, 75, 50, 78, 80, 82, 80, 62, 60, 58, 62, 60, 58, 55, 56, 54, 55, 57,
              54, 56, 55, 57, 58, 56, 58, 60, 57, 55, 58, 60, 56, 58, 60, 82, 78, 85, 80, 70,
              72, 75, 60, 55, 58, 80, 105, 88, 85, 82, 80, 85, 70, 72, 68, 70, 72, 70, 42, 68,
              70, 68, 66, 48, 47, 46, 47, 87, 62, 72, 70, 72, 70]
jpy_hist = [-0.364, -0.309, -0.237, -0.164, -0.073,
            0.036, 0.146, 0.273, 0.364, 0.455,
            0.51, 0.546, 0.51, 0.473, 0.437, 0.364,
            0.328, 0.273, 0.218, 0.182, 0.164, 0.146,
            0.109, 0.073, 0.036, 0.0, -0.036,
            -0.091, -0.127, -0.146, -0.127, -0.091, -0.055,
            -0.018, 0.018, 0.055, 0.055, 0.036,
            0.0, -0.055, -0.146, -0.218, -0.328,
            -0.4, -0.491, -0.582, -0.692, -0.764, -0.819,
            -0.637, -0.51, -0.4, -0.328, -0.255,
            -0.218, -0.182, -0.146, -0.109, -0.073,
            -0.018, 0.073, 0.182, 0.273, 0.364,
            0.4, 0.437, 0.473, 0.491, 0.51,
            0.546, 0.601, 0.619, 0.655, 0.692,
            0.637, 0.546, 0.437, 0.328, 0.218,
            0.146, 0.091, 0.055, 0.018, -0.036,
            -0.109, -0.146, -0.091, -0.055, -0.036,
            -0.073, -0.109, -0.073, -0.055, -0.091,
            -0.073, -0.055, -0.036, 0.0, 0.036,
            0.091, 0.146, 0.2, 0.237, 0.255, 0.273,
            0.218, 0.091, -0.036,
            -0.109, -0.182, -0.273, -0.364, -0.455]
jpy_macd = [0.25, 0.09, 0.62, 1.25, 1.73, 1.85, 1.80, 1.87, 1.75, 1.56,
            1.38, 1.27, 1.31, 1.33, 1.04, 0.45, -0.27, -0.35, -0.45, -0.53,
            -0.35, 0.02, 0.38, 0.75, 1.29, 1.93, 2.18, 2.09, 2.00, 1.82,
            1.64, 1.45, 1.36, 1.36, 1.55, 2.00, 1.76, 1.29, 1.20]
jpy_signal = [0.89, 0.60, 0.45, 0.82, 1.31, 1.56, 1.67, 1.73, 1.71, 1.62,
              1.45, 1.36, 1.36, 1.36, 1.24, 0.85, 0.31, -0.11, -0.36, -0.45,
              -0.36, -0.16, 0.11, 0.38, 0.75, 1.20, 1.65, 1.91, 2.00, 1.85,
              1.73, 1.55, 1.45, 1.42, 1.55, 1.73, 1.75, 1.60, 1.53]
jpy_k = [15, 42, 91, 98, 98, 83, 96, 85, 76, 68, 74, 83, 84, 73, 38, 17, 2, 29, 50, 47,
         76, 96, 98, 99, 96, 92, 78, 81, 75, 65, 73, 77, 82, 92, 98, 96, 50, 24, 19]
jpy_d = [15, 25, 70, 96, 96, 90, 88, 89, 79, 71, 72, 79, 84, 76, 52, 25, 8, 15, 39, 48,
         64, 89, 96, 98, 96, 92, 82, 79, 75, 65, 72, 75, 79, 88, 96, 96, 65, 35, 28]
jpy_rsi = [42, 50, 65, 74, 78, 72, 69, 68, 58, 58, 60, 63, 68, 68, 60, 40, 29, 42, 41, 40,
           48, 55, 57, 58, 64, 73, 72, 67, 63, 59, 58, 59, 60, 63, 69, 75, 54, 52, 58]
jpy_kumo_x = [38, 44, 49, 54, 59, 64, 69, 74, 79, 84, 89, 94, 99, 104, 109, 114, 119, 124, 128]
jpy_span_a = [131.31, 132.50, 133.29, 134.09, 135.28, 136.47, 137.26, 137.42, 137.90, 138.45,
              139.48, 140.04, 140.83, 141.63, 142.18, 142.82, 143.77, 144.80, 145.60]
jpy_span_b = [130.52, 130.91, 131.31, 131.87, 132.90, 133.69, 134.25, 134.48, 134.88, 135.28,
              135.83, 136.87, 137.66, 137.90, 138.06, 138.06, 138.06, 138.06, 138.06]

# ---------------- styling ----------------
PAPER = "#fef9f9"
SEP = "#e3d9d9"
UP, DOWN = "#1f7d5e", "#e4484d"
VOL_UP, VOL_DOWN = "#8fcfc3", "#f2a6a3"
CLOUD_UP, CLOUD_DOWN = "rgba(185,210,180,0.34)", "rgba(244,160,168,0.30)"
TXT = "#4a4a4a"

panels = [
    dict(title="British Pound / U.S. Dollar, 1D, PEPPERSTONE", cur="USD", start="2022-06-22",
         o=gbp_open, h=gbp_high, l=gbp_low, c=gbp_close, vol=gbp_volume, hist=gbp_hist,
         macd=gbp_macd, sig=gbp_signal, k=gbp_k, d=gbp_d, rsi=gbp_rsi,
         kx=gbp_kumo_x, ka=gbp_span_a, kb=gbp_span_b,
         last_txt="1.16131", box="#1a1ef0", line="#6a6cf2", bg="#fcefee", grid="rgba(255,255,255,0.75)",
         left=0, right=420, edge=463, top=0, pb=148, mb=195, sb=258, bottom=273,
         title_x=5, title_y=12, cur_x=427, cur_y=9,
         xr=[0.1, 124.8], pr=[1.0492, 1.2769], vr=[0, 444], mr=[-0.0294, 0.0121], sr=[-16.6, 113.9],
         pt=[1.05, 1.10, 1.15, 1.20], mt=[-0.02, 0.0], st=[0, 50, 100], fmt=".5f",
         cm="#2962ff", cs="#ee4a5c", ck="#2962ff", cd="#f0607a"),
    dict(title="U.S. Dollar / Swiss Franc, 1D, PEPPERSTONE", cur="CHF", start="2022-06-15",
         o=chf_open, h=chf_high, l=chf_low, c=chf_close, vol=chf_volume, hist=chf_hist,
         macd=chf_macd, sig=chf_signal, k=chf_k, d=chf_d, rsi=chf_rsi,
         kx=chf_kumo_x, ka=chf_span_a, kb=chf_span_b,
         last_txt="0.99608", box="#1a1ef0", line="#6a6cf2", bg="#fcefee", grid="rgba(255,255,255,0.75)",
         left=467, right=886, edge=932, top=0, pb=148, mb=195, sb=258, bottom=273,
         title_x=473, title_y=12, cur_x=893, cur_y=9,
         xr=[-1.29, 123.2], pr=[0.9318, 1.0253], vr=[0, 444], mr=[-0.0085, 0.0108], sr=[-18.2, 114],
         pt=[0.94, 0.96, 0.98, 1.00], mt=[0.0, 0.01], st=[0, 50, 100], fmt=".5f",
         cm="#2962ff", cs="#ee4a5c", ck="#2962ff", cd="#f0607a"),
    dict(title="Australian Dollar / U.S. Dollar, 1D, PEPPERSTONE", cur="USD", start="2022-06-14",
         o=aud_open, h=aud_high, l=aud_low, c=aud_close, vol=aud_volume, hist=aud_hist,
         macd=aud_macd, sig=aud_signal, k=aud_k, d=aud_d, rsi=aud_rsi,
         kx=aud_kumo_x, ka=aud_span_a, kb=aud_span_b,
         last_txt="0.64120", box="#f05a5c", line="#f08a8c", bg="#fefafa", grid="#f7eeee",
         left=0, right=418, edge=463, top=278, pb=412, mb=467.7, sb=533.3, bottom=550,
         title_x=5, title_y=290, cur_x=427, cur_y=288,
         xr=[-0.98, 127], pr=[0.6110, 0.7272], vr=[0, 402], mr=[-0.0148, 0.0061], sr=[-10.9, 102.3],
         pt=[0.62, 0.66, 0.68, 0.70], mt=[-0.01, 0.0], st=[40, 80], fmt=".5f",
         cm="#2c3593", cs="#e03ad8", ck="#5a6ae6", cd="#e03ad8"),
    dict(title="U.S. Dollar / Japanese Yen, 1D, PEPPERSTONE", cur="JPY", start="2022-05-25",
         o=jpy_open, h=jpy_high, l=jpy_low, c=jpy_close, vol=jpy_volume, hist=jpy_hist,
         macd=jpy_macd, sig=jpy_signal, k=jpy_k, d=jpy_d, rsi=jpy_rsi,
         kx=jpy_kumo_x, ka=jpy_span_a, kb=jpy_span_b,
         last_txt="147.472", box="#1a1ef0", line="#6a6cf2", bg="#fcefee", grid="rgba(255,255,255,0.75)",
         left=467, right=893, edge=932, top=278, pb=424, mb=486.7, sb=533.3, bottom=550,
         title_x=473, title_y=290, cur_x=899, cur_y=288,
         xr=[-1.2, 127.2], pr=[125.6, 160.36], vr=[0, 438], mr=[-1.0, 2.418], sr=[-7.7, 100.5],
         pt=[130, 140, 150], mt=[0.0, 2.0], st=[50, 100], fmt=".3f",
         cm="#2962ff", cs="#ee4a5c", ck="#2962ff", cd="#f0607a"),
]


def px(x):
    return x / W


def py(y):
    return 1 - y / H


def month_ticks(start, count=150):
    days = pd.bdate_range(start, periods=count)
    vals, text = [], []
    for i in range(1, len(days)):
        if days[i].month != days[i - 1].month:
            vals.append(i)
            text.append(days[i].strftime("%b"))
    return vals, text


def hist_colors(vals):
    cols = []
    prev = 0
    for v in vals:
        if v >= 0:
            cols.append("#26a69a" if v >= prev else "#b2dfdb")
        else:
            cols.append("#ff5252" if v <= prev else "#ffcdd2")
        prev = v
    return cols


def kumo_traces(xs, a, b, xaxis, yaxis):
    # split the cloud where span A and span B swap places
    traces = []
    start = 0
    bull = (a[0] + a[1]) >= (b[0] + b[1])
    pieces = []
    for j in range(2, len(xs)):
        now = (a[j - 1] + a[j]) >= (b[j - 1] + b[j])
        if now != bull:
            pieces.append((start, j - 1, bull))
            start, bull = j - 1, now
    pieces.append((start, len(xs) - 1, bull))
    for s, e, up in pieces:
        seg_x = xs[s:e + 1]
        top = [max(a[j], b[j]) for j in range(s, e + 1)]
        bot = [min(a[j], b[j]) for j in range(s, e + 1)]
        traces.append(go.Scatter(x=seg_x + seg_x[::-1], y=top + bot[::-1], mode="lines",
                                 fill="toself", fillcolor=CLOUD_UP if up else CLOUD_DOWN,
                                 line=dict(width=0), xaxis=xaxis, yaxis=yaxis, hoverinfo="skip"))
    return traces


fig = go.Figure()
axes = {}
shapes = []
annotations = []
tick_font = dict(family=FONT, size=8.5, color=TXT)

for n, p in enumerate(panels):
    xa, xb, xc = 3 * n + 1, 3 * n + 2, 3 * n + 3
    yv, yp, ym, ys = 4 * n + 1, 4 * n + 2, 4 * n + 3, 4 * n + 4
    xs = lambda i: "x" if i == 1 else f"x{i}"
    yn = lambda i: "y" if i == 1 else f"y{i}"
    xk = lambda i: "xaxis" if i == 1 else f"xaxis{i}"
    yk = lambda i: "yaxis" if i == 1 else f"yaxis{i}"

    bars = len(p["c"])
    idx = list(range(bars))
    line_x = list(range(0, bars, 3))
    if line_x[-1] != bars - 1:
        line_x.append(bars - 1)
    mvals, mtext = month_ticks(p["start"])

    xdom = [px(p["left"]), px(p["right"])]
    common_x = dict(domain=xdom, range=p["xr"], tickvals=mvals, showgrid=True, gridcolor=p["grid"],
                    zeroline=False, showline=False, ticks="", fixedrange=True)
    axes[xk(xa)] = dict(common_x, anchor=yn(yv), showticklabels=False, rangeslider=dict(visible=False))
    axes[xk(xb)] = dict(common_x, anchor=yn(ym), showticklabels=False)
    axes[xk(xc)] = dict(common_x, anchor=yn(ys), showticklabels=True, ticktext=mtext,
                        tickfont=dict(family=FONT, size=9, color=TXT))

    common_y = dict(side="right", showgrid=False, zeroline=False, showline=False, ticks="",
                    tickformat=p["fmt"], tickfont=tick_font, ticklabelstandoff=6, fixedrange=True)
    axes[yk(yv)] = dict(domain=[py(p["pb"]), py(p["top"])], range=p["vr"], anchor=xs(xa),
                        visible=False, fixedrange=True)
    axes[yk(yp)] = dict(common_y, overlaying=yn(yv), anchor=xs(xa), range=p["pr"], tickvals=p["pt"],
                        showgrid=True, gridcolor=p["grid"])
    axes[yk(ym)] = dict(common_y, domain=[py(p["mb"]), py(p["pb"])], anchor=xs(xb), range=p["mr"],
                        tickvals=p["mt"])
    axes[yk(ys)] = dict(common_y, domain=[py(p["sb"]), py(p["mb"])], anchor=xs(xc), range=p["sr"],
                        tickvals=p["st"])

    # volume under the candles
    vcol = [VOL_UP if c >= o else VOL_DOWN for o, c in zip(p["o"], p["c"])]
    fig.add_trace(go.Bar(x=idx, y=p["vol"], marker=dict(color=vcol, line=dict(width=0)), width=0.75,
                         xaxis=xs(xa), yaxis=yn(yv), hoverinfo="skip"))
    for t in kumo_traces(p["kx"], p["ka"], p["kb"], xs(xa), yn(yp)):
        fig.add_trace(t)
    fig.add_trace(go.Candlestick(x=idx, open=p["o"], high=p["h"], low=p["l"], close=p["c"],
                                 increasing=dict(line=dict(color=UP, width=1), fillcolor=UP),
                                 decreasing=dict(line=dict(color=DOWN, width=1), fillcolor=DOWN),
                                 whiskerwidth=0, xaxis=xs(xa), yaxis=yn(yp), hoverinfo="skip"))

    # MACD pane
    fig.add_trace(go.Bar(x=idx, y=p["hist"], marker=dict(color=hist_colors(p["hist"]), line=dict(width=0)),
                         width=0.75, xaxis=xs(xb), yaxis=yn(ym), hoverinfo="skip"))
    fig.add_trace(go.Scatter(x=line_x, y=p["macd"], mode="lines", line=dict(color=p["cm"], width=1, shape="spline"),
                             xaxis=xs(xb), yaxis=yn(ym), hoverinfo="skip"))
    fig.add_trace(go.Scatter(x=line_x, y=p["sig"], mode="lines", line=dict(color=p["cs"], width=1, shape="spline"),
                             xaxis=xs(xb), yaxis=yn(ym), hoverinfo="skip"))

    # stochastic + RSI pane
    fig.add_trace(go.Scatter(x=line_x, y=p["rsi"], mode="lines", line=dict(color="#333333", width=2.6),
                             xaxis=xs(xc), yaxis=yn(ys), hoverinfo="skip"))
    fig.add_trace(go.Scatter(x=line_x, y=p["k"], mode="lines", line=dict(color=p["ck"], width=1, shape="spline"),
                             xaxis=xs(xc), yaxis=yn(ys), hoverinfo="skip"))
    fig.add_trace(go.Scatter(x=line_x, y=p["d"], mode="lines", line=dict(color=p["cd"], width=1, shape="spline"),
                             xaxis=xs(xc), yaxis=yn(ys), hoverinfo="skip"))

    # panel background and pane separators
    shapes.append(dict(type="rect", xref="paper", yref="paper", x0=px(p["left"]), x1=px(p["edge"]),
                       y0=py(p["bottom"]), y1=py(p["top"]), fillcolor=p["bg"], line=dict(width=0), layer="below"))
    for yy in (p["pb"], p["mb"]):
        shapes.append(dict(type="line", xref="paper", yref="paper", x0=px(p["left"]), x1=px(p["edge"]),
                           y0=py(yy), y1=py(yy), line=dict(color=SEP, width=1)))
    shapes.append(dict(type="line", xref="paper", yref=yn(ym), x0=px(p["left"]), x1=px(p["right"]),
                       y0=0, y1=0, line=dict(color="#9a9a9a", width=1, dash="dot")))
    for lvl in (0, 100):
        shapes.append(dict(type="line", xref="paper", yref=yn(ys), x0=px(p["left"]), x1=px(p["right"]),
                           y0=lvl, y1=lvl, line=dict(color="#8a8a8a", width=1, dash="dash")))
    last = p["c"][-1]
    shapes.append(dict(type="line", xref="paper", yref=yn(yp), x0=px(p["left"]), x1=px(p["right"]),
                       y0=last, y1=last, line=dict(color=p["line"], width=1, dash="dot")))

    annotations.append(dict(text="<b>" + p["title"] + "</b>", xref="paper", yref="paper",
                            x=px(p["title_x"]), y=py(p["title_y"]), xanchor="left", yanchor="middle",
                            showarrow=False, font=dict(family=FONT, size=8.6, color="#131722")))
    annotations.append(dict(text=p["cur"], xref="paper", yref="paper", x=px(p["cur_x"]), y=py(p["cur_y"]),
                            xanchor="left", yanchor="middle", showarrow=False,
                            font=dict(family=FONT, size=8.5, color=TXT)))
    annotations.append(dict(text=p["last_txt"], xref="paper", yref=yn(yp), x=px(p["right"]), y=last,
                            xanchor="left", yanchor="middle", showarrow=False, bgcolor=p["box"],
                            borderpad=1, font=dict(family=FONT, size=9, color="white")))

fig.update_layout(width=W, height=H, margin=dict(l=0, r=0, t=0, b=0), paper_bgcolor=PAPER,
                  plot_bgcolor="rgba(0,0,0,0)", showlegend=False, hovermode=False,
                  font=dict(family=FONT, size=9, color=TXT), shapes=shapes, annotations=annotations, **axes)

fig.write_html("out.html", config=dict(displayModeBar=False),
               post_script="document.body.style.margin='0px';")
